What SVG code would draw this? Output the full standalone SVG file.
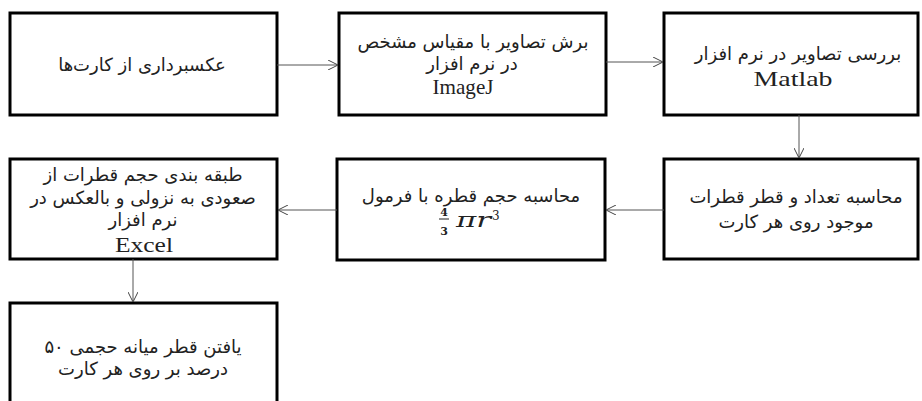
<svg xmlns="http://www.w3.org/2000/svg" width="922" height="401" viewBox="0 0 922 401">
<defs>
<marker id="arr" viewBox="0 0 10 10" refX="10" refY="5" markerWidth="10" markerHeight="10" markerUnits="userSpaceOnUse" orient="auto">
<path d="M0,0 L10,5 L0,10" fill="none" stroke="#444" stroke-width="1"/>
</marker>
<style>
.box{fill:#fff;stroke:#000;stroke-width:3}
.fa{font-family:"DejaVu Sans",sans-serif;font-size:18px;fill:#222;text-anchor:middle;direction:rtl}
.en{font-family:"Liberation Serif",serif;font-size:22px;fill:#222;text-anchor:middle}
.math{font-family:"DejaVu Serif","Liberation Serif",serif;fill:#222}
.con{stroke:#555;stroke-width:1;fill:none;marker-end:url(#arr)}
</style>
</defs>
<rect width="922" height="401" fill="#fff"/>
<g id="n1">
<rect class="box" x="10" y="13" width="267" height="102"/>
<text class="fa" x="142" y="71">عکسبرداری از کارت&#x200C;ها</text>
</g>
<g id="n2">
<rect class="box" x="339" y="13" width="267" height="102"/>
<text class="fa" x="473" y="48">برش تصاویر با مقیاس مشخص</text>
<text class="fa" x="472" y="70">در نرم افزار</text>
<text class="en" x="463" y="94" textLength="61" lengthAdjust="spacingAndGlyphs">ImageJ</text>
</g>
<g id="n3">
<rect class="box" x="664" y="13" width="254" height="102"/>
<text class="fa" x="798" y="60">بررسی تصاویر در نرم افزار</text>
<text class="en" x="793" y="86" font-size="22" textLength="79" lengthAdjust="spacingAndGlyphs">Matlab</text>
</g>
<g id="n4">
<rect class="box" x="664" y="159" width="254" height="100"/>
<text class="fa" x="796" y="203">محاسبه تعداد و قطر قطرات</text>
<text class="fa" x="796" y="228">موجود روی هر کارت</text>
</g>
<g id="n5">
<rect class="box" x="337" y="159" width="268" height="101"/>
<text class="fa" x="471" y="202">محاسبه حجم قطره با فرمول</text>
<text class="math" x="444" y="216" font-size="11" font-weight="bold" text-anchor="middle">4</text>
<line x1="439" y1="219" x2="449" y2="219" stroke="#222" stroke-width="1"/>
<text class="math" x="444" y="235" font-size="11" font-weight="bold" text-anchor="middle">3</text>
<text class="math" x="456" y="227" font-size="21" font-style="italic" textLength="35" lengthAdjust="spacingAndGlyphs">πr</text>
<text class="math" x="492" y="220" font-size="12">3</text>
</g>
<g id="n6">
<rect class="box" x="10" y="159" width="267" height="100"/>
<text class="fa" x="143" y="181">طبقه بندی حجم قطرات از</text>
<text class="fa" x="143" y="204">صعودی به نزولی و بالعکس در</text>
<text class="fa" x="143" y="226">نرم افزار</text>
<text class="en" x="144" y="252" font-size="22" textLength="58" lengthAdjust="spacingAndGlyphs">Excel</text>
</g>
<g id="n7">
<rect class="box" x="10" y="303" width="267" height="110"/>
<text class="fa" x="143" y="353">یافتن قطر میانه حجمی ۵۰</text>
<text class="fa" x="143" y="375">درصد بر روی هر کارت</text>
</g>
<g id="connectors">
<line class="con" x1="277" y1="65" x2="338" y2="65"/>
<line class="con" x1="606" y1="62" x2="663" y2="62"/>
<line class="con" x1="799" y1="115" x2="799" y2="158"/>
<line class="con" x1="664" y1="210" x2="606" y2="210"/>
<line class="con" x1="337" y1="210" x2="278" y2="210"/>
<line class="con" x1="133" y1="259" x2="133" y2="302"/>
</g>
</svg>
